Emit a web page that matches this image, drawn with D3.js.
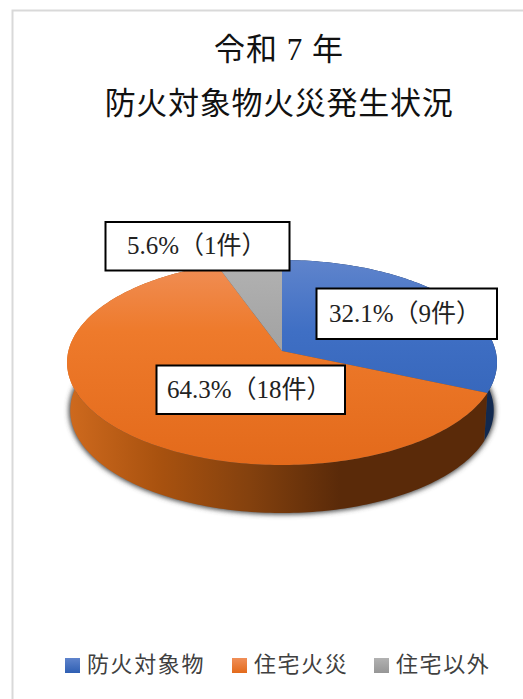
<!DOCTYPE html>
<html>
<head>
<meta charset="utf-8">
<title>令和7年 防火対象物火災発生状況</title>
<style>
html, body { margin: 0; padding: 0; background: #fff; }
svg { display: block; }
text { font-family: "Liberation Serif", "Noto Sans CJK JP", serif; }
</style>
</head>
<body>
<svg width="523" height="699"></svg>
<script src="https://cdnjs.cloudflare.com/ajax/libs/d3/7.8.5/d3.min.js"></script>
<script>
var categories = ["防火対象物", "住宅火災", "住宅以外"];
var percents = [32.1, 64.3, 5.6];
var labels = ["32.1%（9件）", "64.3%（18件）", "5.6%（1件）"];
var titleLines = ["令和 7 年", "防火対象物火災発生状況"];

var svg = d3.select("svg");
var defs = svg.append("defs");

// top face colours, light at the back of the pie and darker toward the front
var topStops = [
  ["#5f84cc", "#3f6fc4", "#2f5fb3"],
  ["#f08f58", "#ee7a2b", "#e36a1b"],
  ["#b2b2b2", "#a5a5a5", "#969696"]
];
var sideStops = [
  ["#16305c", "#16305c", "#12294f", "#12294f"],
  ["#cf6a1e", "#a9520f", "#84410e", "#5a2a09"],
  ["#666", "#666", "#555", "#555"]
];

topStops.forEach(function(c, i) {
  var g = defs.append("linearGradient").attr("id", "top" + i)
    .attr("gradientUnits", "userSpaceOnUse")
    .attr("x1", 0).attr("x2", 0).attr("y1", 260).attr("y2", 465);
  g.selectAll("stop").data(c).enter().append("stop")
    .attr("offset", function(d, j) { return j / 2 * (j == 1 ? 0.7 : 1); })
    .attr("stop-color", function(d) { return d; });
  var s = defs.append("linearGradient").attr("id", "side" + i)
    .attr("gradientUnits", "userSpaceOnUse")
    .attr("x1", 67).attr("x2", 340).attr("y1", 0).attr("y2", 0);
  s.selectAll("stop").data(sideStops[i]).enter().append("stop")
    .attr("offset", function(d, j) { return j / 3; })
    .attr("stop-color", function(d) { return d; });
});

var blur = defs.append("filter").attr("id", "shadow")
  .attr("x", "-10%").attr("y", "-10%").attr("width", "120%").attr("height", "120%");
blur.append("feGaussianBlur").attr("stdDeviation", 2.6);

// chart frame, runs off the right and bottom of the picture
svg.append("rect")
  .attr("x", 12.5).attr("y", 10.5).attr("width", 560).attr("height", 740)
  .attr("fill", "#fff").attr("stroke", "#d9d9d9").attr("stroke-width", 2);

svg.selectAll(".title").data(titleLines).enter().append("text")
  .attr("class", "title")
  .attr("x", 279)
  .attr("y", function(d, i) { return 60 + i * 54; })
  .attr("text-anchor", "middle")
  .attr("font-size", 31)
  .attr("letter-spacing", function(d, i) { return i ? 0.7 : 1; })
  .attr("fill", "#111")
  .text(function(d) { return d; });

// tilted disc: centre of the pie sits above the centre of the ellipse (perspective)
var cx = 282, cy = 351, R = 213.6, S = 101.2, k = -0.1123, depth = 48, lowerScale = 0.985;

function project(a, lower) {
  var u = Math.sin(a), v = -Math.cos(a), w = 1 + k * v;
  var x = R * u / w, y = S * v / w;
  return lower ? [cx + x * lowerScale, cy + y + depth] : [cx + x, cy + y];
}
function arcPoints(a0, a1, lower) {
  var n = Math.max(2, Math.ceil((a1 - a0) / 0.02));
  return d3.range(n + 1).map(function(i) {
    return project(a0 + (a1 - a0) * i / n, lower);
  });
}

var pie = d3.pie().sort(null).value(function(d) { return d; });
var slices = pie(percents);
var line = d3.line();
var full = arcPoints(0, 2 * Math.PI, true);

svg.append("path")
  .attr("d", line(full) + "Z")
  .attr("fill", "#4a4a4a")
  .attr("stroke", "#4a4a4a")
  .attr("stroke-width", 3)
  .attr("filter", "url(#shadow)");

svg.selectAll(".side").data(slices).enter().append("path")
  .attr("class", "side")
  .attr("fill", function(d, i) { return "url(#side" + i + ")"; })
  .attr("d", function(d) {
    var a = arcPoints(d.startAngle, d.endAngle, false);
    var b = arcPoints(d.startAngle, d.endAngle, true).reverse();
    return line(a.concat(b)) + "Z";
  });

svg.selectAll(".slice").data(slices).enter().append("path")
  .attr("class", "slice")
  .attr("fill", function(d, i) { return "url(#top" + i + ")"; })
  .attr("d", function(d) {
    return line([[cx, cy]].concat(arcPoints(d.startAngle, d.endAngle, false))) + "Z";
  });

// data label boxes: x, y, width, height, text x, baseline
var labelBoxes = [
  [316.5, 288.5, 180.5, 50.5, 329, 322],
  [156.5, 365.5, 188.5, 48.5, 167, 398],
  [105.5, 222, 184, 48.5, 127, 254]
];
var label = svg.selectAll(".label").data(labels).enter().append("g").attr("class", "label");
label.append("rect")
  .attr("x", function(d, i) { return labelBoxes[i][0]; })
  .attr("y", function(d, i) { return labelBoxes[i][1]; })
  .attr("width", function(d, i) { return labelBoxes[i][2]; })
  .attr("height", function(d, i) { return labelBoxes[i][3]; })
  .attr("fill", "#fff").attr("stroke", "#000").attr("stroke-width", 2);
label.append("text")
  .attr("x", function(d, i) { return labelBoxes[i][4]; })
  .attr("y", function(d, i) { return labelBoxes[i][5]; })
  .attr("font-size", 25)
  .attr("fill", "#222")
  .text(function(d) { return d; });

// legend
var legendX = [65, 232, 374];
var legend = svg.selectAll(".legend").data(categories).enter().append("g").attr("class", "legend");
var legendGrad = topStops.map(function(c, i) {
  var g = defs.append("linearGradient").attr("id", "leg" + i)
    .attr("x1", 0).attr("x2", 0).attr("y1", 0).attr("y2", 1);
  g.append("stop").attr("offset", 0).attr("stop-color", c[0]);
  g.append("stop").attr("offset", 1).attr("stop-color", c[2]);
  return "url(#leg" + i + ")";
});
legend.append("rect")
  .attr("x", function(d, i) { return legendX[i]; })
  .attr("y", 658).attr("width", 15).attr("height", 15)
  .attr("fill", function(d, i) { return legendGrad[i]; });
legend.append("text")
  .attr("x", function(d, i) { return legendX[i] + 22; })
  .attr("y", 672)
  .attr("font-size", 22)
  .attr("letter-spacing", 1.6)
  .attr("fill", "#404040")
  .text(function(d) { return d; });
</script>
</body>
</html>
